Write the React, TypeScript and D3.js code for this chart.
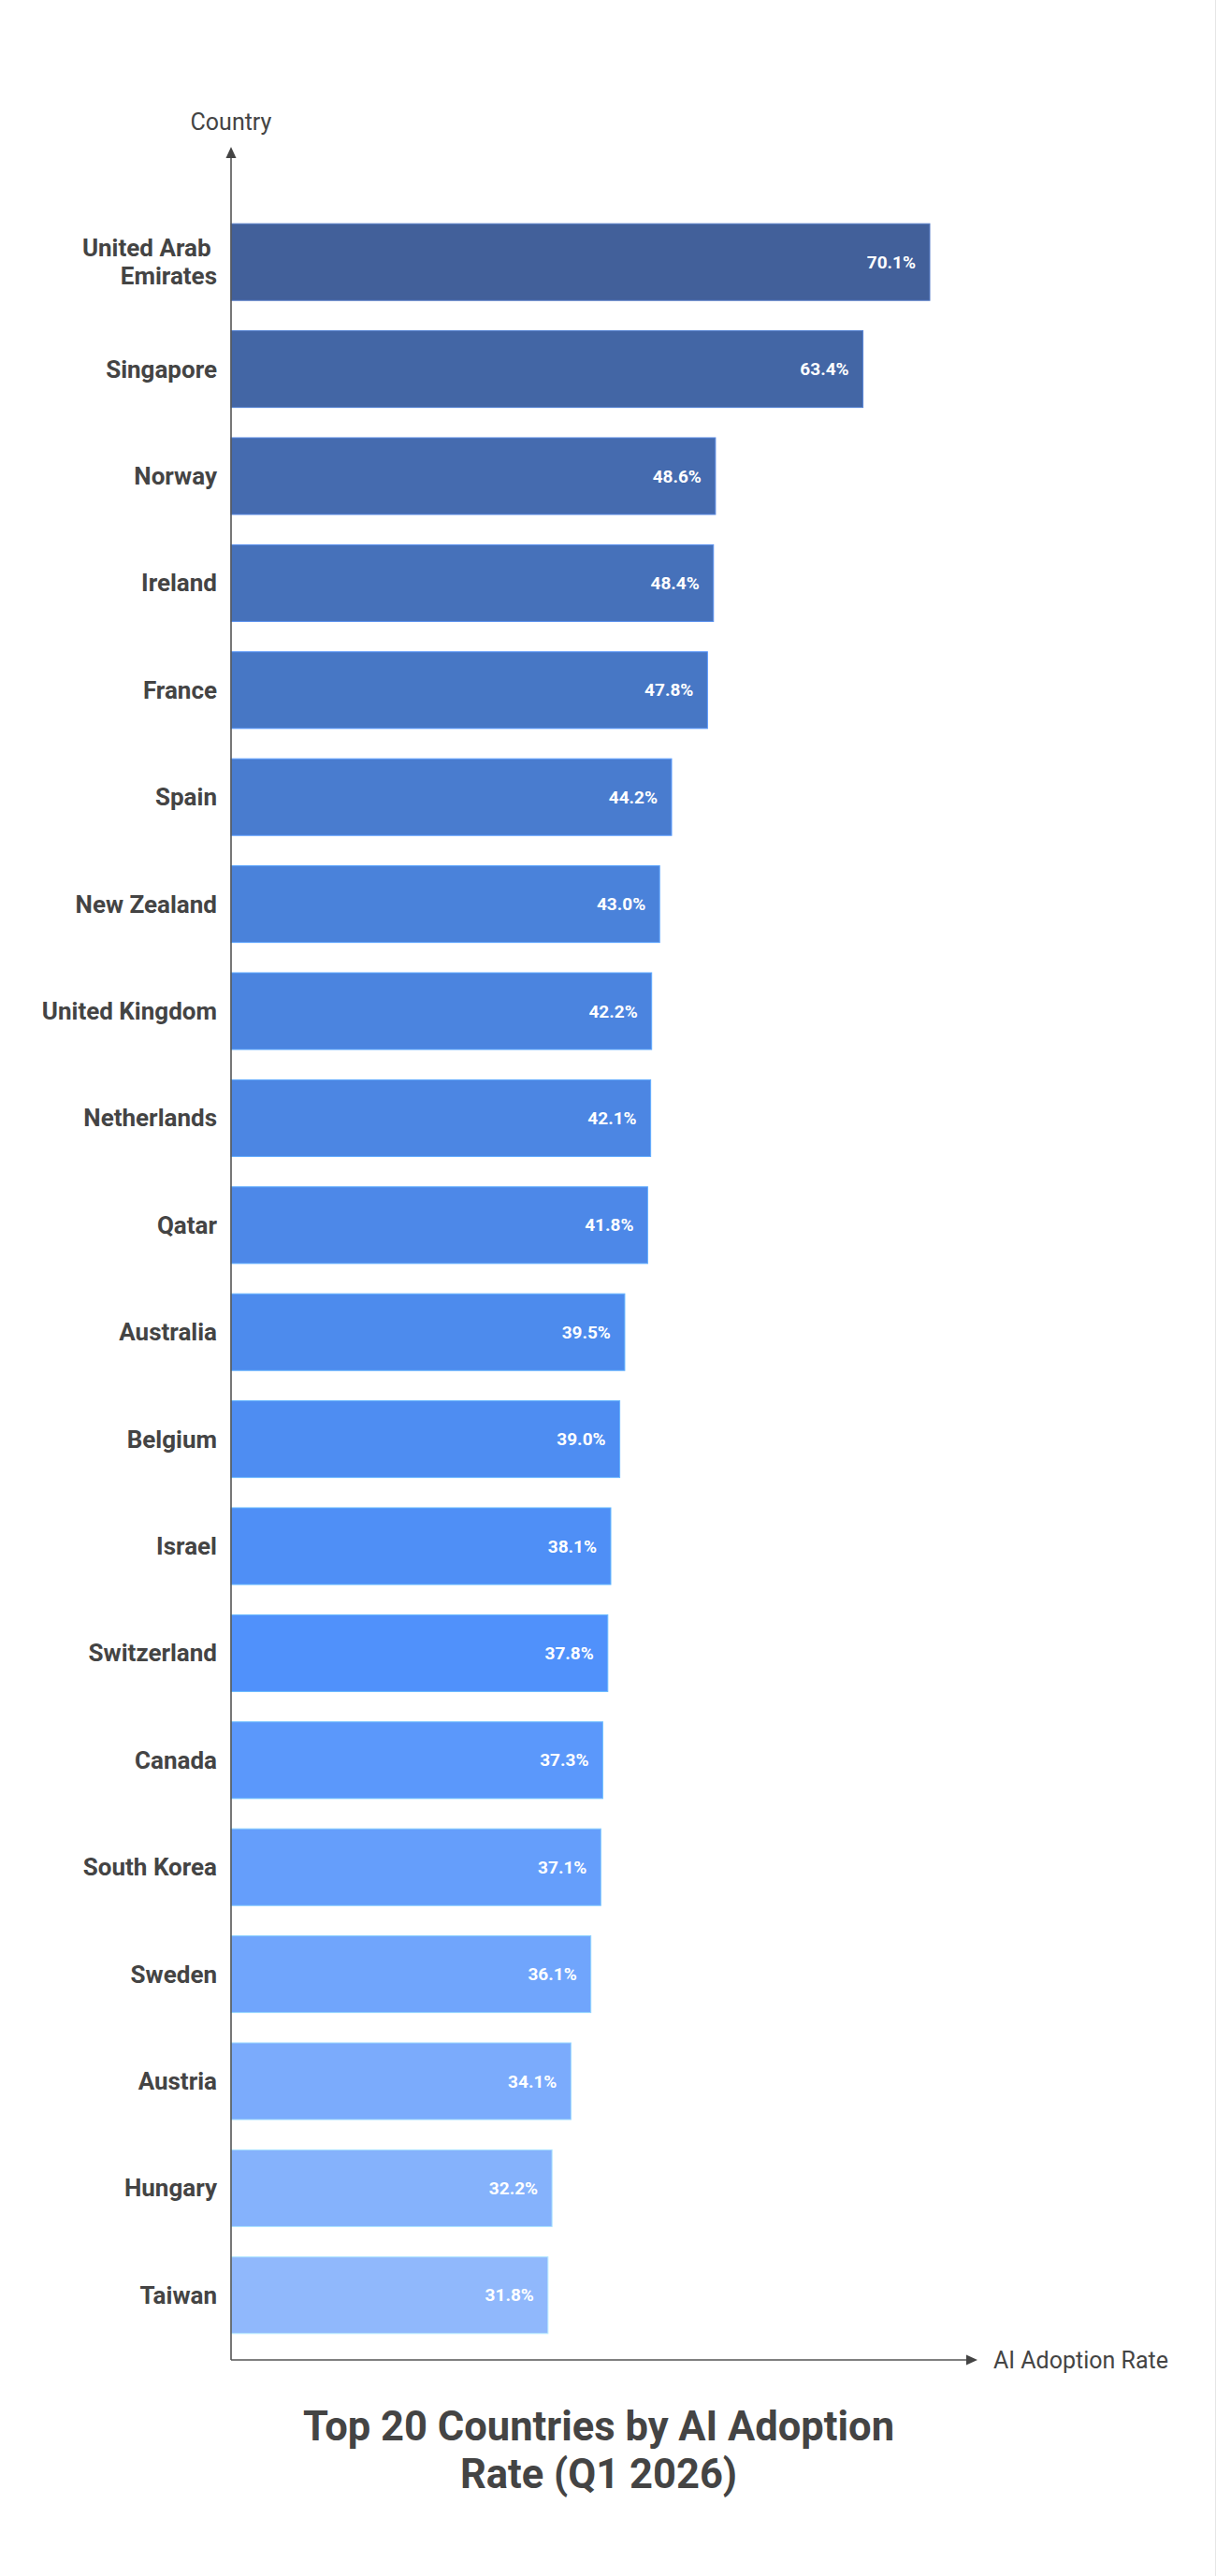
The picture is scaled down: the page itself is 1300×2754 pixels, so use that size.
import React, {useEffect} from 'react';
import * as d3 from 'd3';

// Daten: Top 20 Länder nach KI-Adoptionsrate
const countries = [
    'United Arab Emirates', 'Singapore', 'Norway', 'Ireland', 'France',
    'Spain', 'New Zealand', 'United Kingdom', 'Netherlands', 'Qatar',
    'Australia', 'Belgium', 'Israel', 'Switzerland', 'Canada',
    'South Korea', 'Sweden', 'Austria', 'Hungary', 'Taiwan'
];
const adoptionRates = [
    70.1, 63.4, 48.6, 48.4, 47.8,
    44.2, 43.0, 42.2, 42.1, 41.8,
    39.5, 39.0, 38.1, 37.8, 37.3,
    37.1, 36.1, 34.1, 32.2, 31.8
];
const titleLines = ['Top 20 Countries by AI Adoption', 'Rate (Q1 2026)'];
const xAxisLabel = 'AI Adoption Rate';
const yAxisLabel = 'Country';

const width = 1300;
const height = 2754;
const axisX = 247;
const axisY = 2523;
const labelFont = '700 26px Roboto';

// Beschriftung umbrechen, wenn zu lang
const measureCtx = typeof document !== 'undefined'
    ? document.createElement('canvas').getContext('2d') : null;
const wrapLabel = (label: string, maxWidth: number): string[] => {
    if (!measureCtx) return [label];
    measureCtx.font = labelFont;
    const words = label.split(' ');
    const lines: string[] = [];
    let line = '';
    words.forEach(w => {
        const test = line ? line + ' ' + w : w;
        if (line && measureCtx.measureText(test).width > maxWidth) {
            lines.push(line + ' ');
            line = w;
        } else {
            line = test;
        }
    });
    lines.push(line);
    return lines;
};

const App: React.FC = () => {
    useEffect(() => {
        document.body.style.margin = '0';
    }, []);

    const xScale = d3.scaleLinear()
        .domain([0, d3.max(adoptionRates)!])
        .range([axisX, 994]);

    const yScale = d3.scaleBand<string>()
        .domain(countries)
        .range([223, 2511])
        .paddingInner(0.283)
        .paddingOuter(0.1415);

    // Farbverlauf nach Rang (dunkel -> hell)
    const colorScale = d3.scaleLinear<string>()
        .domain([0, 6, 13, 19])
        .range(['#42609a', '#4a82da', '#5091fb', '#90b8fc'])
        .interpolate(d3.interpolateRgb);

    const bw = yScale.bandwidth();

    return (
        <svg width={width} height={height} style={{display: 'block', background: '#fff'}}
             fontFamily="Roboto, 'Noto Sans', sans-serif">
            <line x1={width - 0.5} x2={width - 0.5} y1={0} y2={height} stroke="#e6e6e6"/>

            {countries.map((c, i) => {
                const v = adoptionRates[i];
                const y = yScale(c)!;
                const fill = colorScale(i);
                const lines = wrapLabel(c, 215);
                const cy = y + bw / 2;
                return (
                    <g key={c}>
                        <rect x={xScale(0)} y={y} width={xScale(v) - xScale(0)} height={bw}
                              fill={fill} stroke={d3.color(fill)!.brighter(0.7).toString()}
                              strokeWidth={1}/>
                        <text x={xScale(v) - 15} y={cy} textAnchor="end" dominantBaseline="central"
                              fill="#fff" fontSize={19} fontWeight={700}>
                            {v.toFixed(1)}%
                        </text>
                        <text x={axisX - 15} textAnchor="end" dominantBaseline="central"
                              fill="#444" fontSize={26} fontWeight={700} style={{whiteSpace: 'pre'}}>
                            {lines.map((l, k) => (
                                <tspan key={k} x={axisX - 15} y={cy + (k - (lines.length - 1) / 2) * 30}>{l}</tspan>
                            ))}
                        </text>
                    </g>
                );
            })}

            {/* Achsen */}
            <line x1={axisX} x2={axisX} y1={166} y2={axisY} stroke="#555" strokeWidth={1.6}/>
            <path d={`M${axisX},157 L${axisX - 5.5},169 L${axisX + 5.5},169 Z`} fill="#444"/>
            <line x1={axisX} x2={1036} y1={axisY} y2={axisY} stroke="#555" strokeWidth={1.6}/>
            <path d={`M1045,${axisY} L1033,${axisY - 5.5} L1033,${axisY + 5.5} Z`} fill="#444"/>

            <text x={axisX} y={139} textAnchor="middle" fill="#444" fontSize={25}>{yAxisLabel}</text>
            <text x={1062} y={axisY} dominantBaseline="central" fill="#444" fontSize={25}>{xAxisLabel}</text>

            {/* Titel */}
            {titleLines.map((t, i) => (
                <text key={t} x={640} y={2609 + i * 51} textAnchor="middle" fill="#444"
                      fontSize={43.5} fontWeight={700}>{t}</text>
            ))}
        </svg>
    );
};

export default App;
